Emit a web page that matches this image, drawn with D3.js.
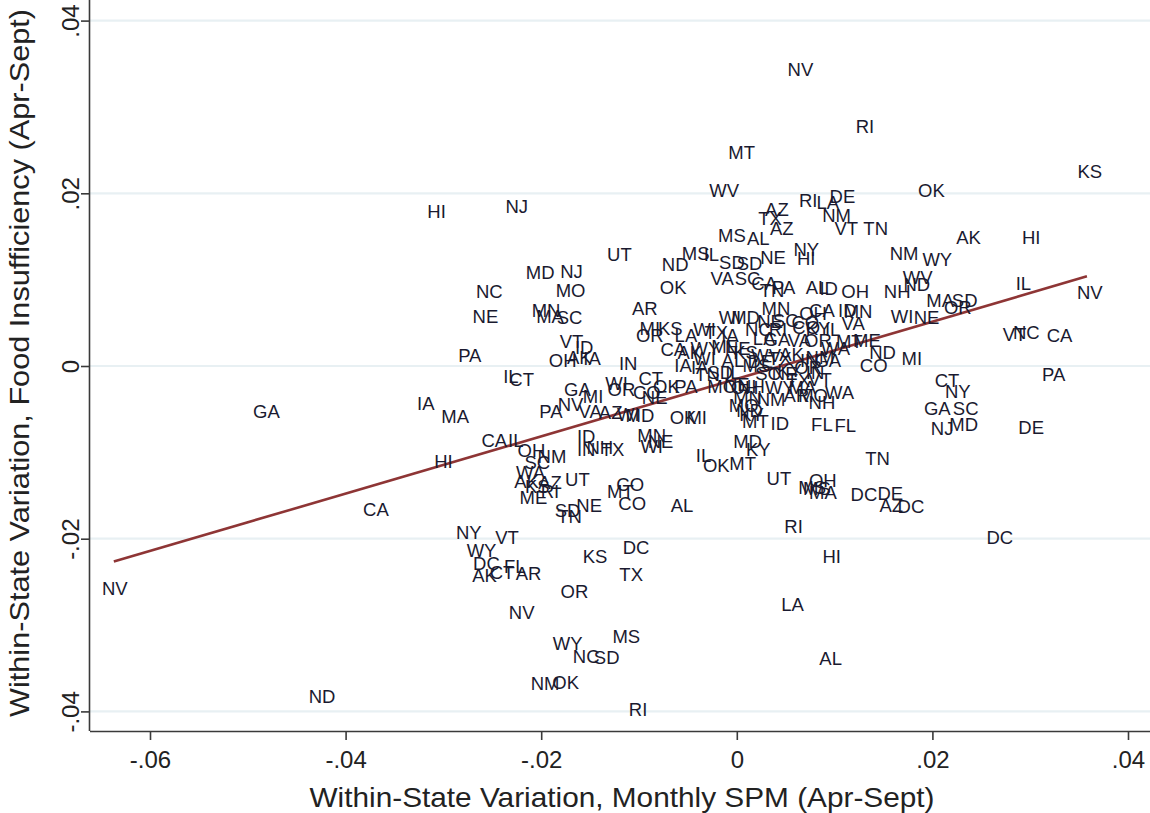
<!DOCTYPE html>
<html><head><meta charset="utf-8">
<script src="https://cdn.jsdelivr.net/npm/d3@7"></script>
<style>
html,body{margin:0;padding:0;background:#fff;}
svg{display:block;font-family:"Liberation Sans",Arial,sans-serif;}
</style></head>
<body>
<svg id="chart" width="1150" height="813"></svg>
<script>
// ---------- data ----------
const states = ["NV","RI","MT","KS","WV","OK","RI","LA","DE","AZ","TX","AZ","NM","VT","TN","HI","NJ","AK","HI","MS",
"AL","NY","HI","NM","WY","UT","MS","IL","SD","SD","NE","ND","MD","NJ","MO","OK","VA","SC","CA","TN",
"PA","AL","ID","OH","NH","WV","ND","NC","MA","SD","OR","IL","NV","AR","MN","MA","SC","NE","WI","NE",
"MN","CA","ID","MN","VA","MI","KS","OR","VT","NC","CA","WI","MD","NE","SC","CO","OH","LA","WI","TX",
"IA","LA","GA","VA","OR","MT","ME","CA","AK","WY","ME","NE","IA","WI","WV","TX","AK","IN","NM","ND",
"CO","MI","PA","IL","CT","VT","ID","OH","AK","IA","IN","WI","OR","CT","GA","MI","NV","VA","PA","AZ",
"WI","MD","GA","IA","MA","HI","CA","NV","ND","CA","IL","ID","IN","NH","TX","MN","WI","NE","OH","SC",
"NM","WA","AK","AZ","KS","ME","RI","UT","CO","MT","CO","NE","SD","TN","AL","NY","WY","VT","DC","CT",
"FL","AK","AR","KS","DC","TX","OR","NV","MS","WY","NC","SD","NM","OK","RI","LA","AL","HI","RI","DC",
"UT","OH","MS","MA","MS","DC","DE","AZ","DC","TN","FL","FL","NJ","MD","GA","SC","CT","NY","DE","PA",
"IL","OK","MT","MD","KY","ID","MT","OK","MI","WA","NH","NM","MN","ND","MO","KY","OK","PA","NE","CO",
"MO","NE","NH","OH","TN","IA","NE","TX","IN","KY","MA","OR","IL","CO","AR","MO","SC","WY","IL","DE",
"KS","MS","AL","SD","VT","GA","WA","NC","RI","KY"];
const spmVar = [0.0065,0.0131,0.0005,0.0361,-0.0013,0.0199,0.0073,0.0093,0.0108,0.0041,0.0034,0.0046,0.0102,0.0112,0.0142,-0.0307,-0.0225,0.0237,0.0301,-0.0005,
0.0022,0.0071,0.0071,0.0171,0.0205,-0.0120,-0.0042,-0.0026,-0.0005,0.0013,0.0037,-0.0063,-0.0201,-0.0169,-0.0170,-0.0065,-0.0015,0.0011,0.0028,0.0036,
0.0048,0.0082,0.0094,0.0121,0.0164,0.0185,0.0184,-0.0253,0.0208,0.0233,0.0226,0.0293,0.0361,-0.0094,-0.0195,-0.0191,-0.0171,-0.0257,0.0169,0.0194,
0.0040,0.0087,0.0113,0.0124,0.0119,-0.0089,-0.0068,-0.0089,0.0284,0.0296,0.0330,-0.0007,0.0009,0.0034,0.0050,0.0070,0.0078,-0.0052,-0.0033,-0.0021,
-0.0007,0.0028,0.0041,0.0064,0.0083,0.0115,0.0133,-0.0065,-0.0048,-0.0032,-0.0012,0.0001,-0.0055,-0.0033,0.0030,0.0044,0.0056,0.0074,0.0085,0.0149,
0.0140,0.0179,-0.0273,-0.0231,-0.0220,-0.0169,-0.0156,-0.0178,-0.0161,-0.0148,-0.0111,-0.0123,-0.0118,-0.0088,-0.0163,-0.0147,-0.0170,-0.0150,-0.0190,-0.0129,
-0.0111,-0.0099,-0.0481,-0.0318,-0.0288,-0.0300,-0.0369,-0.0636,-0.0424,-0.0248,-0.0226,-0.0154,-0.0154,-0.0140,-0.0127,-0.0087,-0.0087,-0.0078,-0.0210,-0.0204,
-0.0189,-0.0211,-0.0215,-0.0191,-0.0204,-0.0208,-0.0191,-0.0163,-0.0109,-0.0119,-0.0107,-0.0151,-0.0173,-0.0171,-0.0056,-0.0274,-0.0261,-0.0235,-0.0256,-0.0240,
-0.0227,-0.0258,-0.0213,-0.0145,-0.0103,-0.0108,-0.0166,-0.0220,-0.0113,-0.0173,-0.0154,-0.0133,-0.0196,-0.0175,-0.0101,0.0057,0.0096,0.0097,0.0058,0.0269,
0.0043,0.0088,0.0082,0.0088,0.0077,0.0130,0.0157,0.0158,0.0178,0.0144,0.0087,0.0111,0.0210,0.0232,0.0205,0.0234,0.0215,0.0226,0.0301,0.0324,
-0.0034,-0.0021,0.0006,0.0011,0.0022,0.0044,0.0019,-0.0055,-0.0041,0.0105,0.0087,0.0035,0.0011,0.0013,0.0007,0.0015,-0.0072,-0.0052,-0.0084,-0.0092,
-0.0015,0.0000,0.0015,0.0008,-0.0030,-0.0038,0.0049,0.0063,0.0080,0.0054,0.0067,0.0073,0.0098,0.0071,0.0061,0.0078,0.0032,0.0044,-0.0004,0.0024,
0.0009,0.0020,-0.0004,-0.0017,0.0085,0.0093,0.0101,0.0022,0.0042,0.0083];
const fiVar = [0.0344,0.0278,0.0247,0.0226,0.0204,0.0204,0.0192,0.0189,0.0197,0.0181,0.0171,0.0160,0.0175,0.0159,0.0159,0.0179,0.0185,0.0149,0.0149,0.0151,
0.0148,0.0135,0.0125,0.0130,0.0124,0.0129,0.0130,0.0129,0.0120,0.0119,0.0126,0.0118,0.0109,0.0110,0.0088,0.0091,0.0101,0.0102,0.0096,0.0088,
0.0091,0.0091,0.0090,0.0087,0.0087,0.0103,0.0095,0.0087,0.0076,0.0076,0.0068,0.0096,0.0085,0.0067,0.0064,0.0057,0.0056,0.0058,0.0058,0.0056,
0.0067,0.0064,0.0065,0.0063,0.0049,0.0044,0.0044,0.0036,0.0037,0.0039,0.0035,0.0056,0.0056,0.0052,0.0053,0.0051,0.0061,0.0035,0.0042,0.0039,
0.0035,0.0032,0.0031,0.0030,0.0030,0.0028,0.0030,0.0019,0.0016,0.0020,0.0023,0.0021,0.0001,0.0009,0.0012,0.0009,0.0014,0.0007,0.0010,0.0016,
0.0001,0.0009,0.0012,-0.0012,-0.0015,0.0028,0.0022,0.0007,0.0010,0.0009,0.0003,-0.0020,-0.0027,-0.0014,-0.0027,-0.0035,-0.0044,-0.0052,-0.0052,-0.0054,
-0.0056,-0.0057,-0.0052,-0.0043,-0.0058,-0.0110,-0.0166,-0.0257,-0.0382,-0.0086,-0.0086,-0.0081,-0.0097,-0.0094,-0.0096,-0.0080,-0.0093,-0.0087,-0.0098,-0.0111,
-0.0105,-0.0123,-0.0133,-0.0135,-0.0139,-0.0152,-0.0145,-0.0131,-0.0137,-0.0145,-0.0159,-0.0161,-0.0167,-0.0174,-0.0161,-0.0193,-0.0213,-0.0198,-0.0228,-0.0239,
-0.0232,-0.0243,-0.0240,-0.0221,-0.0210,-0.0241,-0.0261,-0.0285,-0.0313,-0.0321,-0.0336,-0.0337,-0.0367,-0.0366,-0.0398,-0.0276,-0.0339,-0.0221,-0.0186,-0.0198,
-0.0130,-0.0132,-0.0142,-0.0146,-0.0141,-0.0149,-0.0147,-0.0161,-0.0163,-0.0107,-0.0067,-0.0069,-0.0072,-0.0067,-0.0049,-0.0049,-0.0017,-0.0029,-0.0071,-0.0010,
-0.0104,-0.0115,-0.0113,-0.0087,-0.0096,-0.0066,-0.0064,-0.0059,-0.0059,-0.0030,-0.0042,-0.0039,-0.0036,-0.0051,-0.0045,-0.0056,-0.0024,-0.0023,-0.0036,-0.0030,
-0.0024,-0.0021,-0.0024,-0.0025,-0.0010,-0.0002,-0.0009,-0.0017,-0.0007,-0.0005,-0.0025,-0.0001,0.0043,0.0045,-0.0034,-0.0034,-0.0008,-0.0025,-0.0007,0.0005,
0.0016,0.0001,0.0006,-0.0007,-0.0016,0.0007,0.0021,0.0042,0.0042,0.0044];
const xTicks = [-0.06,-0.04,-0.02,0,0.02,0.04];
const xTickLabels = ["-.06","-.04","-.02","0",".02",".04"];
const yTicks = [-0.04,-0.02,0,0.02,0.04];
const yTickLabels = ["-.04","-.02","0",".02",".04"];
const fitRange = [-0.0637, 0.0358];
const fitIntercept = -0.0015;
const fitSlope = 0.332;
const xTitle = "Within-State Variation, Monthly SPM (Apr-Sept)";
const yTitle = "Within-State Variation, Food Insufficiency (Apr-Sept)";

// ---------- layout ----------
const svg = d3.select("#chart");
const plotLeft = 90, plotRight = 1150, plotTop = 0, plotBottom = 731;
const x = d3.scaleLinear().domain([-0.06, 0.04]).range([150, 1128]);
const y = d3.scaleLinear().domain([-0.04, 0.04]).range([711.4, 20.6]);

// gridlines
svg.append("g").selectAll("line").data(yTicks).join("line")
  .attr("x1", plotLeft).attr("x2", plotRight)
  .attr("y1", d => y(d)).attr("y2", d => y(d))
  .attr("stroke", "#e8f0f3").attr("stroke-width", 2.2);

// axes
const xAxis = d3.axisBottom(x).tickValues(xTicks).tickFormat((d,i) => xTickLabels[i]).tickSize(9).tickSizeOuter(0);
const gx = svg.append("g").attr("transform", `translate(0,${plotBottom})`).call(xAxis);
gx.select(".domain").attr("d", `M${plotLeft},0.5H${plotRight}`).attr("stroke", "#3a3a3a").attr("stroke-width", 1.6);
gx.selectAll(".tick line").attr("stroke", "#3a3a3a").attr("stroke-width", 1.6);
gx.selectAll(".tick text").attr("font-size", 24).attr("fill", "#222").attr("y", 14).attr("dy", "0.95em")
  .attr("font-family", "'Liberation Sans',Arial,sans-serif");

const yAxis = d3.axisLeft(y).tickValues(yTicks).tickFormat((d,i) => yTickLabels[i]).tickSize(9).tickSizeOuter(0);
const gy = svg.append("g").attr("transform", `translate(${plotLeft},0)`).call(yAxis);
gy.select(".domain").attr("d", `M-0.5,${plotTop}V${plotBottom}`).attr("stroke", "#3a3a3a").attr("stroke-width", 1.6);
gy.selectAll(".tick line").attr("stroke", "#3a3a3a").attr("stroke-width", 1.6);
gy.selectAll(".tick text")
  .attr("font-size", 24).attr("fill", "#222")
  .attr("font-family", "'Liberation Sans',Arial,sans-serif")
  .attr("x", null).attr("dy", null)
  .attr("text-anchor", "middle")
  .attr("transform", "translate(-11,0) rotate(-90)");

// fit line
svg.append("line")
  .attr("x1", x(fitRange[0])).attr("y1", y(fitIntercept + fitSlope * fitRange[0]))
  .attr("x2", x(fitRange[1])).attr("y2", y(fitIntercept + fitSlope * fitRange[1]))
  .attr("stroke", "#8e3535").attr("stroke-width", 2.6);

// labels
const pts = states.map((s, i) => ({s, xv: spmVar[i], yv: fiVar[i]}));
svg.append("g").selectAll("text").data(pts).join("text")
  .attr("x", d => x(d.xv)).attr("y", d => y(d.yv))
  .attr("text-anchor", "middle").attr("dy", "0.36em")
  .attr("font-size", 18.5).attr("fill", "#1a1a30")
  .text(d => d.s);

// titles
svg.append("text").attr("x", 622).attr("y", 807).attr("text-anchor", "middle")
  .attr("font-size", 28.5).attr("fill", "#222")
  .attr("textLength", 625).attr("lengthAdjust", "spacingAndGlyphs").text(xTitle);
svg.append("text").attr("transform", "translate(29,363) rotate(-90)").attr("text-anchor", "middle")
  .attr("font-size", 28.5).attr("fill", "#222")
  .attr("textLength", 708).attr("lengthAdjust", "spacingAndGlyphs").text(yTitle);
</script>
</body></html>
